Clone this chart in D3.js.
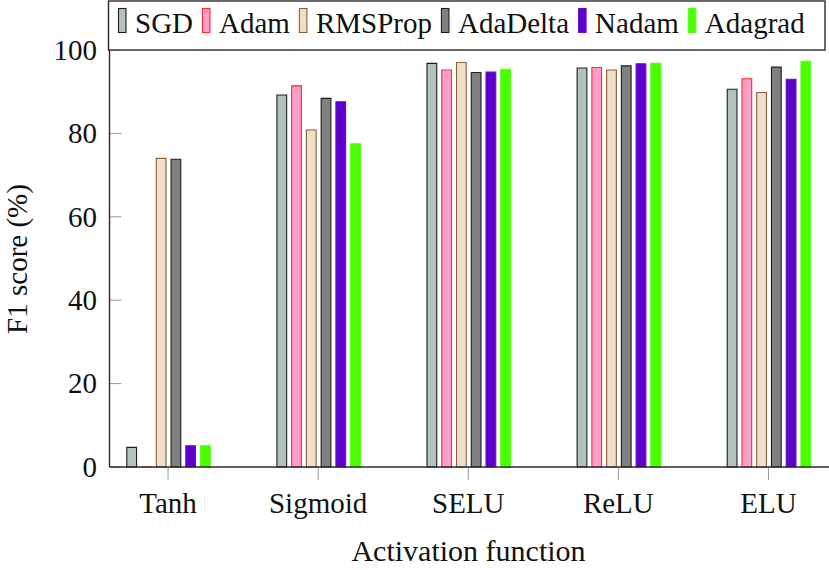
<!DOCTYPE html>
<html>
<head>
<meta charset="utf-8">
<script src="https://cdn.jsdelivr.net/npm/d3@7"></script>
<style>
  html, body { margin: 0; padding: 0; background: #fff; }
  svg { display: block; }
  text { font-family: "Liberation Serif", "Times New Roman", Times, serif; fill: #111; }
</style>
</head>
<body>
<svg id="chart" width="829" height="570"></svg>
<script>
const categories = ["Tanh", "Sigmoid", "SELU", "ReLU", "ELU"];
const seriesNames = ["SGD", "Adam", "RMSProp", "AdaDelta", "Nadam", "Adagrad"];
const SGD      = [4.7, 89.2, 96.8, 95.7, 90.6];
const Adam     = [0.0, 91.4, 95.2, 95.8, 93.1];
const RMSProp  = [74.0, 80.8, 97.0, 95.2, 89.8];
const AdaDelta = [73.8, 88.4, 94.6, 96.2, 95.9];
const Nadam    = [5.1, 87.6, 94.7, 96.7, 93.0];
const Adagrad  = [5.1, 77.5, 95.4, 96.8, 97.3];
const yTicks = [0, 20, 40, 60, 80, 100];
const fills   = ["#b2c2be", "#ff9dcb", "#f0dfcb", "#808080", "#5c00cc", "#4cff00"];
const strokes = ["#1e1e1e", "#ff2a2a", "#8a6035", "#1e1e1e", "#6310d0", "#55ff10"];

const values = [SGD, Adam, RMSProp, AdaDelta, Nadam, Adagrad];

const svg = d3.select("#chart");
const plotLeft = 109.5, plotRight = 829, plotTop = 4, plotBottom = 467;

const x0 = d3.scalePoint().domain(categories).range([plotLeft, 827]).padding(0.39);
const x1 = d3.scaleBand().domain(seriesNames).range([-44.25, 44.25]).paddingInner(0.34).paddingOuter(0.17);
const y = d3.scaleLinear().domain([0, 100]).range([plotBottom, 50]);

// bars
const g = svg.append("g");
seriesNames.forEach((s, si) => {
  g.selectAll(null).data(categories).enter().append("path")
    .attr("d", (c, ci) => {
      const xa = x0(c) + x1(s) + 0.5, xb = xa + x1.bandwidth();
      const ya = y(0), yb = y(values[si][ci]);
      return `M${xa},${ya}V${yb}H${xb}V${ya}Z`;
    })
    .attr("fill", fills[si])
    .attr("stroke", strokes[si])
    .attr("stroke-width", 1.1);
});

// y axis ticks (inward)
const yAxis = svg.append("g");
yAxis.selectAll("line.tk").data(yTicks).enter().append("line")
  .attr("x1", plotLeft).attr("x2", plotLeft + 12)
  .attr("y1", d => y(d)).attr("y2", d => y(d))
  .attr("stroke", "#9a9a9a").attr("stroke-width", 1);
yAxis.selectAll("text").data(yTicks).enter().append("text")
  .attr("x", 97).attr("y", d => y(d)).attr("dy", "0.34em")
  .attr("text-anchor", "end").attr("font-size", 29)
  .text(d => d);

// x axis ticks (outward)
const xAxis = svg.append("g");
xAxis.selectAll("line").data(categories).enter().append("line")
  .attr("x1", d => x0(d)).attr("x2", d => x0(d))
  .attr("y1", plotBottom).attr("y2", plotBottom + 13)
  .attr("stroke", "#9a9a9a").attr("stroke-width", 1);
xAxis.selectAll("text").data(categories).enter().append("text")
  .attr("x", d => x0(d)).attr("y", 513)
  .attr("text-anchor", "middle").attr("font-size", 29)
  .text(d => d);

// axis lines
svg.append("line").attr("x1", plotLeft).attr("x2", plotRight).attr("y1", plotBottom).attr("y2", plotBottom)
  .attr("stroke", "#2a2a2a").attr("stroke-width", 1.4);
svg.append("line").attr("x1", plotLeft).attr("x2", plotLeft).attr("y1", plotTop).attr("y2", plotBottom)
  .attr("stroke", "#2a2a2a").attr("stroke-width", 1.4);

// axis labels
svg.append("text").attr("x", 468.5).attr("y", 561)
  .attr("text-anchor", "middle").attr("font-size", 30)
  .text("Activation function");
svg.append("text")
  .attr("transform", "translate(27,259) rotate(-90)")
  .attr("text-anchor", "middle").attr("font-size", 29)
  .text("F1 score (%)");

// legend
const leg = svg.append("g");
leg.append("rect").attr("x", 108.5).attr("y", 1).attr("width", 716.5).attr("height", 49)
  .attr("fill", "#fff").attr("stroke", "#2a2a2a").attr("stroke-width", 1.4);
let lx = 118;
seriesNames.forEach((s, i) => {
  leg.append("rect").attr("x", lx + 0.5).attr("y", 8.5).attr("width", 7.5).attr("height", 24)
    .attr("fill", fills[i]).attr("stroke", strokes[i]).attr("stroke-width", 1.1);
  const t = leg.append("text").attr("x", lx + 17).attr("y", 33).attr("font-size", 29).text(s);
  lx = lx + 17 + t.node().getComputedTextLength() + 9;
});
</script>
</body>
</html>
